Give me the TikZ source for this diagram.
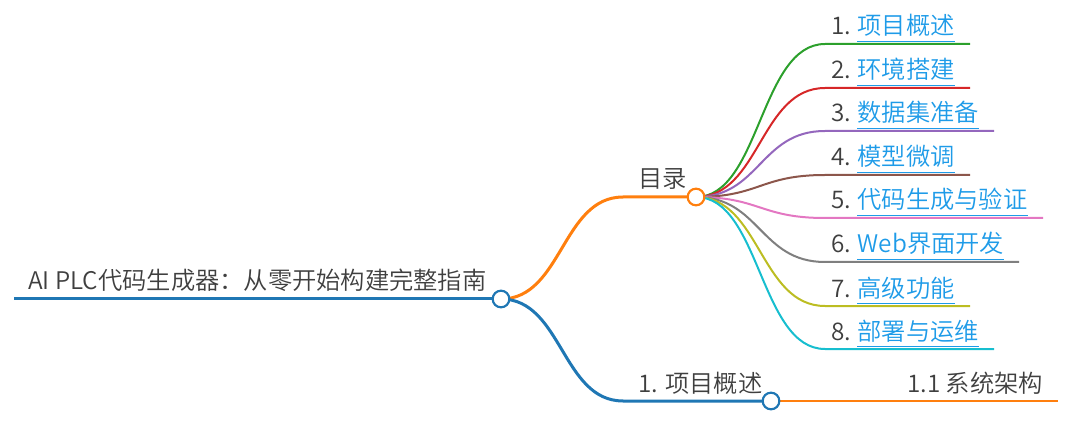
\documentclass[tikz,border=0pt]{standalone}
\usepackage{fontspec}
\setmainfont{Noto Sans CJK SC DemiLight}
\definecolor{cblue}{HTML}{1F77B4}
\definecolor{corange}{HTML}{FF7F0E}
\definecolor{cgreen}{HTML}{2CA02C}
\definecolor{cred}{HTML}{D62728}
\definecolor{cpurple}{HTML}{9467BD}
\definecolor{cbrown}{HTML}{8C564B}
\definecolor{cpink}{HTML}{E377C2}
\definecolor{cgray}{HTML}{7F7F7F}
\definecolor{colive}{HTML}{BCBD22}
\definecolor{ccyan}{HTML}{17BECF}
\definecolor{linkblue}{HTML}{1E9BE8}
\definecolor{textgray}{HTML}{3F3F3F}
\begin{document}
\begin{tikzpicture}[x=0.75pt,y=-0.75pt,
  font=\fontsize{18.2}{20}\selectfont,
  txt/.style={inner sep=0pt, anchor=base west, text=textgray},
  dot/.style={circle, draw, fill=white, line width=1.6pt, minimum size=12.5pt, inner sep=0pt},
  thick1/.style={line width=2.25pt},
  thin1/.style={line width=1.5pt}]
\useasboundingbox (0,0) rectangle (1080,427);

\coordinate (rootstart) at (14,299);
\coordinate (c-root) at (501,299);
\coordinate (c-mulu) at (696,197);
\coordinate (mulu-knee) at (623,197);
\coordinate (c-sec) at (771,401);
\coordinate (sec-knee) at (623,401);
\coordinate (sub-end) at (1058,401);

\draw[cblue, thick1] (rootstart) -- (c-root);
\draw[corange, thick1] (c-root) .. controls (562,299) and (562,197) .. (mulu-knee) -- (c-mulu);
\draw[cblue, thick1] (c-root) .. controls (562,299) and (562,401) .. (sec-knee) -- (c-sec);
\draw[corange, thin1] (c-sec) -- (sub-end);

\foreach \n/\y/\xe/\c/\t in {1/44/970/cgreen/项目概述, 2/88/970/cred/环境搭建, 3/131/994/cpurple/数据集准备, 4/175/970/cbrown/模型微调, 5/218/1043/cpink/代码生成与验证, 6/262/1019/cgray/Web界面开发, 7/306/970/colive/高级功能, 8/349/994/ccyan/部署与运维}{
  \coordinate (k\n) at (825,\y);
  \coordinate (e\n) at (\xe,\y);
  \draw[\c, thin1] (c-mulu) .. controls (760,197) and (760,\y) .. (k\n) -- (e\n);
  \node[txt] (num\n) at (831,{\y-9}) {\n.};
  \node[txt, text=linkblue] (lk\n) at ([xshift=4.5pt]num\n.base east) {\t};
  \draw[linkblue, line width=1.1pt] ([yshift=-5pt]lk\n.base west) -- ([yshift=-5pt]lk\n.base east);
}

\node[txt] (roottext) at (28,290) {AI PLC代码生成器：从零开始构建完整指南};
\node[txt] (mulutext) at (638,188) {目录};
\node[txt] (sectext) at (638,392) {1. 项目概述};
\node[txt] (subtext) at (907,392) {1.1 系统架构};

\node[dot, draw=cblue] (root) at (c-root) {};
\node[dot, draw=corange] (mulu) at (c-mulu) {};
\node[dot, draw=cblue] (sec) at (c-sec) {};
\end{tikzpicture}
\end{document}
